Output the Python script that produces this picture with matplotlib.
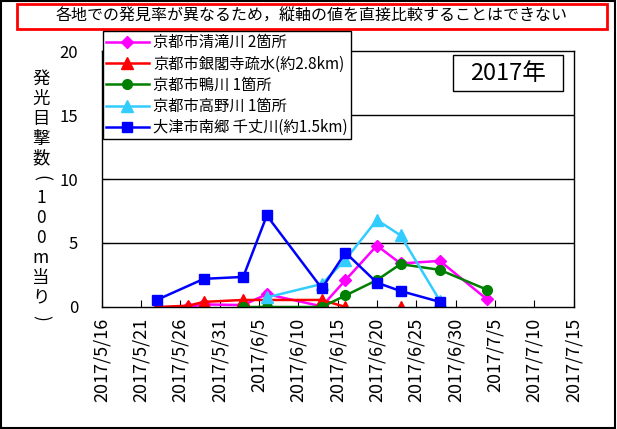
import numpy as np
import pandas as pd
import matplotlib
matplotlib.use('Agg')
import matplotlib.pyplot as plt
from matplotlib.patches import Rectangle

plt.rcParams['font.family'] = ['Noto Sans CJK JP', 'DejaVu Sans']

# 各地点のデータ (2017年)
kiyotaki_dates = ['2017-05-27', '2017-05-29', '2017-06-03', '2017-06-06', '2017-06-13',
                  '2017-06-16', '2017-06-20', '2017-06-23', '2017-06-28', '2017-07-04']
kiyotaki_vals = [0.0, 0.2, 0.15, 1.0, 0.05, 2.1, 4.8, 3.4, 3.6, 0.6]

ginkaku_dates = ['2017-05-23', '2017-05-27', '2017-05-29', '2017-06-03', '2017-06-13',
                 '2017-06-16', '2017-06-20', '2017-06-23']
ginkaku_vals = [0.0, 0.1, 0.4, 0.55, 0.55, 0.0, np.nan, 0.0]

kamo_dates = ['2017-06-03', '2017-06-06', '2017-06-13', '2017-06-16', '2017-06-20',
              '2017-06-23', '2017-06-28', '2017-07-04']
kamo_vals = [0.0, 0.0, 0.0, 0.9, 2.1, 3.35, 2.9, 1.35]

takano_dates = ['2017-06-06', '2017-06-13', '2017-06-16', '2017-06-20', '2017-06-23', '2017-06-28']
takano_vals = [0.75, 1.8, 3.7, 6.8, 5.6, 0.5]

otsu_dates = ['2017-05-23', '2017-05-29', '2017-06-03', '2017-06-06', '2017-06-13',
              '2017-06-16', '2017-06-20', '2017-06-23', '2017-06-28']
otsu_vals = [0.55, 2.2, 2.35, 7.15, 1.45, 4.25, 1.9, 1.25, 0.4]

series = [
    ('京都市清滝川 2箇所', kiyotaki_dates, kiyotaki_vals, '#FF00FF', 'D', 6.5),
    ('京都市銀閣寺疏水(約2.8km)', ginkaku_dates, ginkaku_vals, '#FF0000', '^', 8),
    ('京都市鴨川 1箇所', kamo_dates, kamo_vals, '#008000', 'o', 7),
    ('京都市高野川 1箇所', takano_dates, takano_vals, '#33CCFF', '^', 8),
    ('大津市南郷 千丈川(約1.5km)', otsu_dates, otsu_vals, '#0000FF', 's', 7),
]

fig = plt.figure(figsize=(6.17, 4.29), dpi=100)
ax = fig.add_axes([0.1648, 0.2844, 0.7647, 0.5967])

for label, d, v, c, m, ms in series:
    ax.plot(pd.to_datetime(d), v, color=c, marker=m, markersize=ms, lw=1.8, label=label)

ax.set_ylim(0, 20)
ax.set_yticks([0, 5, 10, 15, 20])
ax.set_xlim(pd.Timestamp('2017-05-16'), pd.Timestamp('2017-07-15'))
ticks = pd.date_range('2017-05-16', '2017-07-15', freq='5D')
ax.set_xticks(ticks)
ax.set_xticklabels([f'{t.year}/{t.month}/{t.day}' for t in ticks], rotation=90, fontsize=13)
ax.tick_params(axis='x', direction='in', length=5, pad=8)
ax.tick_params(axis='y', direction='in', length=5, pad=17, labelsize=12)
for y in [5, 10, 15]:
    ax.axhline(y, color='black', lw=1, zorder=0)
for s in ax.spines.values():
    s.set_linewidth(1)

# 縦書きの軸ラベル (括弧は回転して縦書き風に)
ylab = ['発', '光', '目', '撃', '数', '(', '1', '0', '0', 'm', '当', 'り', ')']
for i, ch in enumerate(ylab):
    rot = -90 if ch in '()' else 0
    fig.text(41 / 617, 1 - (79 + i * 19.9) / 429, ch, ha='center', va='center',
             fontsize=12.5, rotation=rot, rotation_mode='anchor')

leg = fig.legend(loc='upper left', bbox_to_anchor=(103 / 617, 1 - 31 / 429), fontsize=11,
                 frameon=True, fancybox=False, edgecolor='black', handlelength=2.8,
                 labelspacing=0.28, borderpad=0.2, handletextpad=0.3, borderaxespad=0)
leg.get_frame().set_linewidth(1)
leg.get_frame().set_alpha(1)

# 年の表示枠
fig.patches.append(Rectangle((453 / 617, 1 - 91 / 429), 110 / 617, 36 / 429, transform=fig.transFigure,
                             fc='white', ec='black', lw=1))
fig.text(508 / 617, 1 - 73 / 429, '2017年', ha='center', va='center', fontsize=17)

fig.patches.append(Rectangle((17 / 617, 1 - 29 / 429), 590 / 617, 25 / 429, transform=fig.transFigure,
                             fill=False, ec='#FF0000', lw=2))
fig.text(312 / 617, 1 - 16.5 / 429, '各地での発見率が異なるため，縦軸の値を直接比較することはできない',
         ha='center', va='center', fontsize=11.5)
fig.patches.append(Rectangle((0.002, 0.003), 0.995, 0.994, transform=fig.transFigure,
                             fill=False, ec='black', lw=1.5))

fig.savefig('out.png', dpi=100)
